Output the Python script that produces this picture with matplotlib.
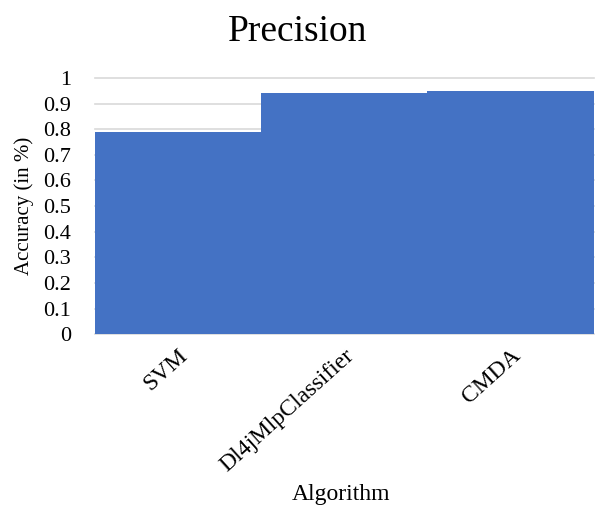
import numpy as np
import matplotlib.pyplot as plt

plt.rcParams['font.family'] = ['Liberation Serif', 'DejaVu Serif']

algorithms = ["SVM", "Dl4jMlpClassifier", "CMDA"]
precision = [0.79, 0.94, 0.95]
yticks = [0, 0.1, 0.2, 0.3, 0.4, 0.5, 0.6, 0.7, 0.8, 0.9, 1]
ytick_labels = ["0", "0.1", "0.2", "0.3", "0.4", "0.5", "0.6", "0.7", "0.8", "0.9", "1"]

fig = plt.figure(figsize=(6.03, 5.07), dpi=100)
ax = fig.add_axes([0.1575, 0.341, 0.827, 0.505])

x = np.arange(len(algorithms))
ax.bar(x, precision, width=1.0, color='#4472C4', zorder=3)

ax.set_xlim(-0.5, len(algorithms) - 0.5)
ax.set_ylim(0, 1)
ax.set_yticks(yticks)
ax.set_yticklabels(ytick_labels, fontsize=16)
ax.set_xticks(x)
ax.set_xticklabels(algorithms, fontsize=17, rotation=42, ha='right',
                   rotation_mode='anchor')
ax.tick_params(axis='both', length=0)
ax.tick_params(axis='y', pad=17)
ax.tick_params(axis='x', pad=8)

ax.grid(axis='y', color='#d9d9d9', linewidth=1.2, zorder=0)
for g in ax.get_ygridlines():
    g.set_clip_on(False)
for s in ax.spines.values():
    s.set_visible(False)

ax.set_ylabel("Accuracy (in %)", fontsize=15, labelpad=7)
fig.text(0.566, 0.004, "Algorithm", fontsize=17, ha='center', va='bottom')
fig.text(0.493, 0.937, "Precision", fontsize=27, ha='center', va='center')

fig.savefig("out.png", dpi=100)
